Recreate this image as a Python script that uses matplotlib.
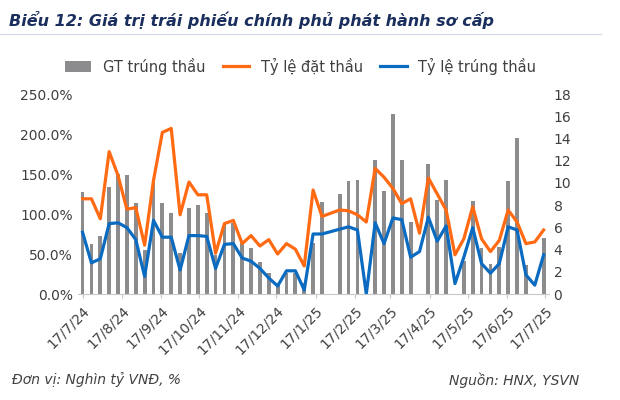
import matplotlib
matplotlib.use("Agg")
import matplotlib.pyplot as plt
import numpy as np
import datetime as dt

start = dt.date(2024, 7, 17)
dates = [start + dt.timedelta(days=7 * i) for i in range(53)]

gt_trung_thau = [9.2, 4.5, 5.2, 9.6, 10.8, 10.7, 8.2, 4.0, 10.1, 8.2, 7.3, 3.7, 7.7, 8.0, 7.3, 3.5,
                 6.4, 6.4, 4.6, 4.1, 2.9, 1.9, 1.0, 1.9, 1.9, 1.0,
                 4.6, 8.3, 0.0, 9.0, 10.2, 10.3, 0.0, 12.1, 9.3, 16.2, 12.1, 6.5, 0.0, 11.7, 8.5,
                 10.3, 0.0, 3.0, 8.4, 4.1, 2.7, 4.2, 10.2, 14.0, 2.6, 0.0, 5.0]
ty_le_dat = [119, 119, 94, 178, 148, 106, 108, 61, 142, 202, 207, 99, 140, 124, 124, 51,
             88, 92, 63, 73, 60, 68, 50, 63, 56, 35,
             130, 97, 101, 105, 104, 99, 90, 157, 146, 132, 113, 119, 76, 145, 125,
             105, 49, 69, 109, 69, 53, 67, 105, 90, 63, 65, 80]
ty_le_trung = [77, 39, 44, 88, 89, 83, 68, 22, 92, 71, 71, 30, 73, 73, 72, 32,
               62, 63, 45, 41, 32, 20, 10, 29, 29, 5,
               75, 75, 78, 81, 84, 80, 0, 89, 63, 95, 93, 46, 53, 96, 66,
               85, 13, 46, 83, 38, 26, 38, 84, 80, 24, 11, 49]
tick_dates = [dt.date(2024, m, 17) for m in range(7, 13)] + [dt.date(2025, m, 17) for m in range(1, 8)]
tick_labels = [f"17/{d.month}/{d.strftime('%y')}" for d in tick_dates]

fig = plt.figure(figsize=(6.2, 4.0), dpi=100)
fig.patch.set_facecolor("white")
ax = fig.add_axes([0.125, 0.265, 0.76, 0.5])
ax2 = ax.twinx()
ax.set_zorder(2); ax.patch.set_visible(False)

ax2.bar(dates, gt_trung_thau, width=3.0, color="#8C8C8E", label="GT trúng thầu")
ax.plot(dates, ty_le_dat, color="#FF6A13", lw=2.3, label="Tỷ lệ đặt thầu")
ax.plot(dates, ty_le_trung, color="#0A6BC1", lw=2.3, label="Tỷ lệ trúng thầu")

ax.set_xlim(dates[0] - dt.timedelta(days=4.5), dates[-1] + dt.timedelta(days=4.5))
ax.set_ylim(0, 250)
ax.set_yticks(np.arange(0, 251, 50))
ax.set_yticklabels([f"{v:.1f}%" for v in np.arange(0, 251, 50)])
ax2.set_ylim(0, 18)
ax2.set_yticks(range(0, 19, 2))
ax.set_xticks(tick_dates)
ax.set_xticklabels(tick_labels, rotation=45, ha="right", rotation_mode="anchor")
for a in (ax, ax2):
    for s in a.spines.values():
        s.set_visible(False)
    a.tick_params(length=0, labelsize=10, colors="#404040")
ax.spines["bottom"].set_visible(True)
ax.spines["bottom"].set_color("#C8C8C8")
ax.tick_params(axis="x", length=3, color="#C8C8C8", pad=4)

h1, l1 = ax2.get_legend_handles_labels()
h2, l2 = ax.get_legend_handles_labels()
fig.legend(h1 + h2, l1 + l2, loc="center", bbox_to_anchor=(0.485, 0.835), ncol=3, frameon=False,
           fontsize=10.5, handlelength=1.8, columnspacing=1.2, labelcolor="#404040")

fig.text(0.015, 0.95, "Biểu 12: Giá trị trái phiếu chính phủ phát hành sơ cấp", fontsize=11.5,
         fontweight="bold", style="italic", color="#1B2F5E", va="center")
fig.add_artist(plt.Line2D([0.0, 0.97], [0.915, 0.915], color="#D0D8E8", lw=0.8))
fig.text(0.02, 0.05, "Đơn vị: Nghìn tỷ VNĐ, %", fontsize=10, style="italic", color="#404040", va="center")
fig.text(0.935, 0.05, "Nguồn: HNX, YSVN", fontsize=10, style="italic", color="#404040", va="center", ha="right")

fig.savefig("out.png", dpi=100)
